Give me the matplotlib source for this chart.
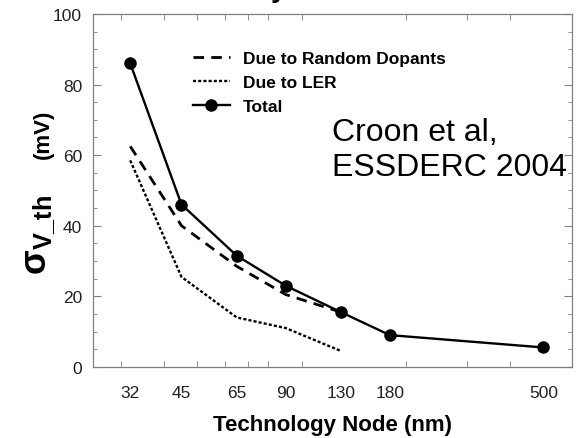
import matplotlib.pyplot as plt
from matplotlib.ticker import FixedLocator, MultipleLocator, NullFormatter

plt.rcParams["font.family"] = ["Liberation Sans", "DejaVu Sans"]
plt.rcParams["mathtext.fontset"] = "custom"
plt.rcParams["mathtext.rm"] = "Liberation Sans"
plt.rcParams["mathtext.it"] = "Liberation Sans:italic"
plt.rcParams["mathtext.bf"] = "Liberation Sans:bold"

# technology node (nm) vs. threshold voltage spread (mV)
nodes_total = [32, 45, 65, 90, 130, 180, 500]
sigma_total = [86, 46, 31.5, 23, 15.5, 9, 5.5]

nodes_rdf = [32, 45, 65, 90, 130]
sigma_rdf = [62.5, 40, 28.5, 20.5, 15.5]

nodes_ler = [32, 45, 65, 90, 130]
sigma_ler = [58.5, 25.5, 14, 11, 4.5]

node_labels = ["32", "45", "65", "90", "130", "180", "500"]
log_marks = [30, 40, 50, 60, 70, 80, 90, 100, 200, 300, 400, 500]

GRAY = "#808080"

fig, ax = plt.subplots(figsize=(5.82, 4.39), dpi=100)
fig.subplots_adjust(left=0.16, right=0.983, top=0.966, bottom=0.162)

ax.plot(nodes_rdf, sigma_rdf, color="black", lw=2.0, dashes=(3.8, 2.6),
        label="Due to Random Dopants")
ax.plot(nodes_ler, sigma_ler, color="black", lw=1.7, dashes=(1.3, 0.9),
        label="Due to LER")
ax.plot(nodes_total, sigma_total, color="black", lw=1.7, marker="o", ms=8,
        label="Total")

ax.set_xscale("log")
ax.set_xlim(25, 605)
ax.set_ylim(0, 100)

# labels sit on the node values, tick marks on the log grid
ax.xaxis.set_major_locator(FixedLocator(nodes_total))
ax.set_xticklabels(node_labels)
ax.xaxis.set_minor_locator(FixedLocator(log_marks))
ax.xaxis.set_minor_formatter(NullFormatter())
ax.tick_params(axis="x", which="major", length=0, pad=13)
ax.tick_params(axis="x", which="minor", direction="in", length=4, top=True)

ax.set_yticks(range(0, 101, 20))
ax.yaxis.set_minor_locator(MultipleLocator(5))
ax.tick_params(axis="y", which="major", direction="in", length=6, right=True, pad=8)
ax.tick_params(axis="y", which="minor", direction="in", length=3, right=True)
ax.tick_params(which="both", color=GRAY, labelcolor="#222222", labelsize=12.5)

for sp in ax.spines.values():
    sp.set_color(GRAY)
    sp.set_linewidth(0.9)

ax.set_xlabel("Technology Node (nm)", fontsize=16, fontweight="bold", labelpad=10)

# y label: sigma with subscript, unit in a separate smaller text
fig.text(0.068, 0.466, r"$\mathbf{\sigma}_{\mathbf{V\_th}}$", rotation=90,
         ha="center", va="center", fontsize=26)
fig.text(0.075, 0.694, "(mV)", rotation=90, ha="center", va="center",
         fontsize=16, fontweight="bold")

ax.legend(loc="upper left", bbox_to_anchor=(0.209, 0.895), frameon=False,
          borderpad=0, borderaxespad=0, handlelength=2.1, handletextpad=0.75,
          labelspacing=0.5, prop={"weight": "bold", "size": 12.5})

ax.text(0.499, 0.708, "Croon et al,\nESSDERC 2004", transform=ax.transAxes,
        fontsize=23, ha="left", va="top")

fig.text(0.493, 1.007, "Variability", ha="right", va="baseline",
         fontsize=20, fontweight="bold")

fig.savefig("out.png", dpi=100)
